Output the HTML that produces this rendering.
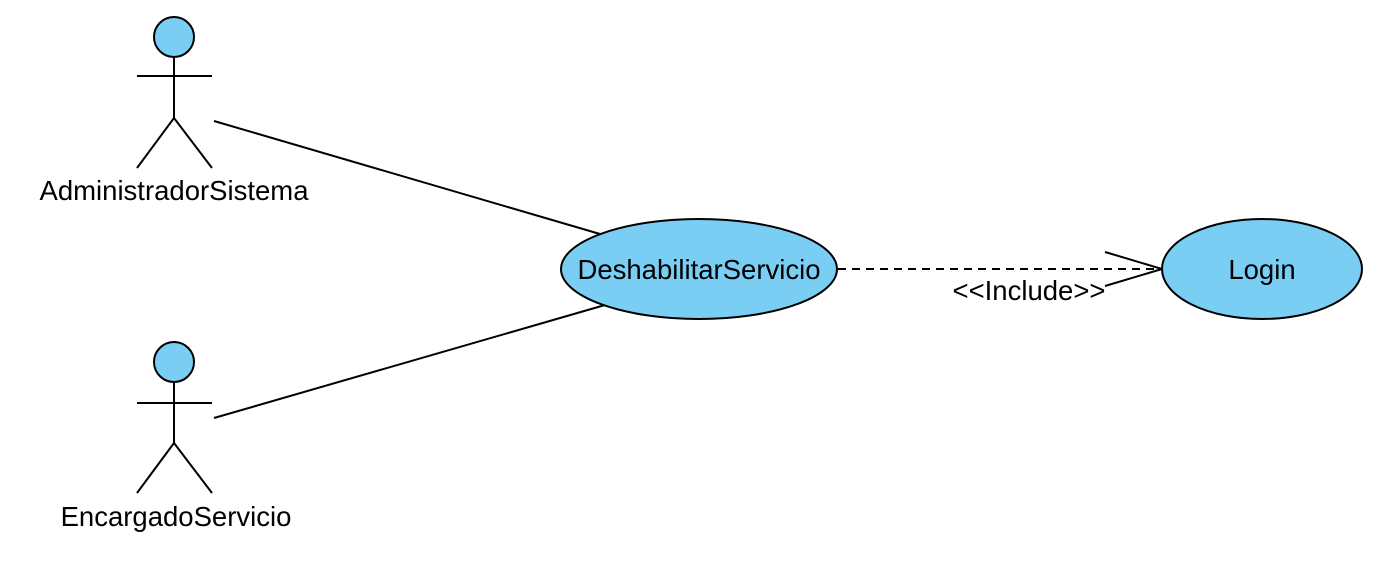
<!DOCTYPE html>
<html><head><meta charset="utf-8"><style>
html,body{margin:0;padding:0;background:#fff;}
svg{display:block;}
text{font-family:"Liberation Sans",Arial,sans-serif;fill:#000;}
</style></head><body>
<svg width="1387" height="563" viewBox="0 0 1387 563" xmlns="http://www.w3.org/2000/svg">
<g stroke="#000" stroke-width="2" fill="none">
  <circle cx="174" cy="37" r="20" fill="#7acef4"/>
  <line x1="174" y1="57" x2="174" y2="118"/>
  <line x1="137" y1="76" x2="212" y2="76"/>
  <line x1="174" y1="118" x2="137" y2="168"/>
  <line x1="174" y1="118" x2="212" y2="168"/>
  <circle cx="174" cy="362" r="20" fill="#7acef4"/>
  <line x1="174" y1="382" x2="174" y2="443"/>
  <line x1="137" y1="403" x2="212" y2="403"/>
  <line x1="174" y1="443" x2="137" y2="493"/>
  <line x1="174" y1="443" x2="212" y2="493"/>
  <line x1="214" y1="121" x2="600" y2="234"/>
  <line x1="214" y1="418" x2="605" y2="305"/>
  <line x1="838" y1="269" x2="1160" y2="269" stroke-dasharray="8,6"/>
  <polyline points="1105,252 1162,269 1105,286"/>
  <ellipse cx="699" cy="269" rx="138" ry="50" fill="#7acef4"/>
  <ellipse cx="1262" cy="269" rx="100" ry="50" fill="#7acef4"/>
</g>
<text x="174" y="200" font-size="27.5" text-anchor="middle">AdministradorSistema</text>
<text x="176" y="526" font-size="27.5" text-anchor="middle">EncargadoServicio</text>
<text x="699" y="279" font-size="27.5" text-anchor="middle">DeshabilitarServicio</text>
<text x="1262" y="279" font-size="27.5" text-anchor="middle">Login</text>
<text x="1029" y="300" font-size="27.5" text-anchor="middle">&lt;&lt;Include&gt;&gt;</text>
</svg>
</body></html>
